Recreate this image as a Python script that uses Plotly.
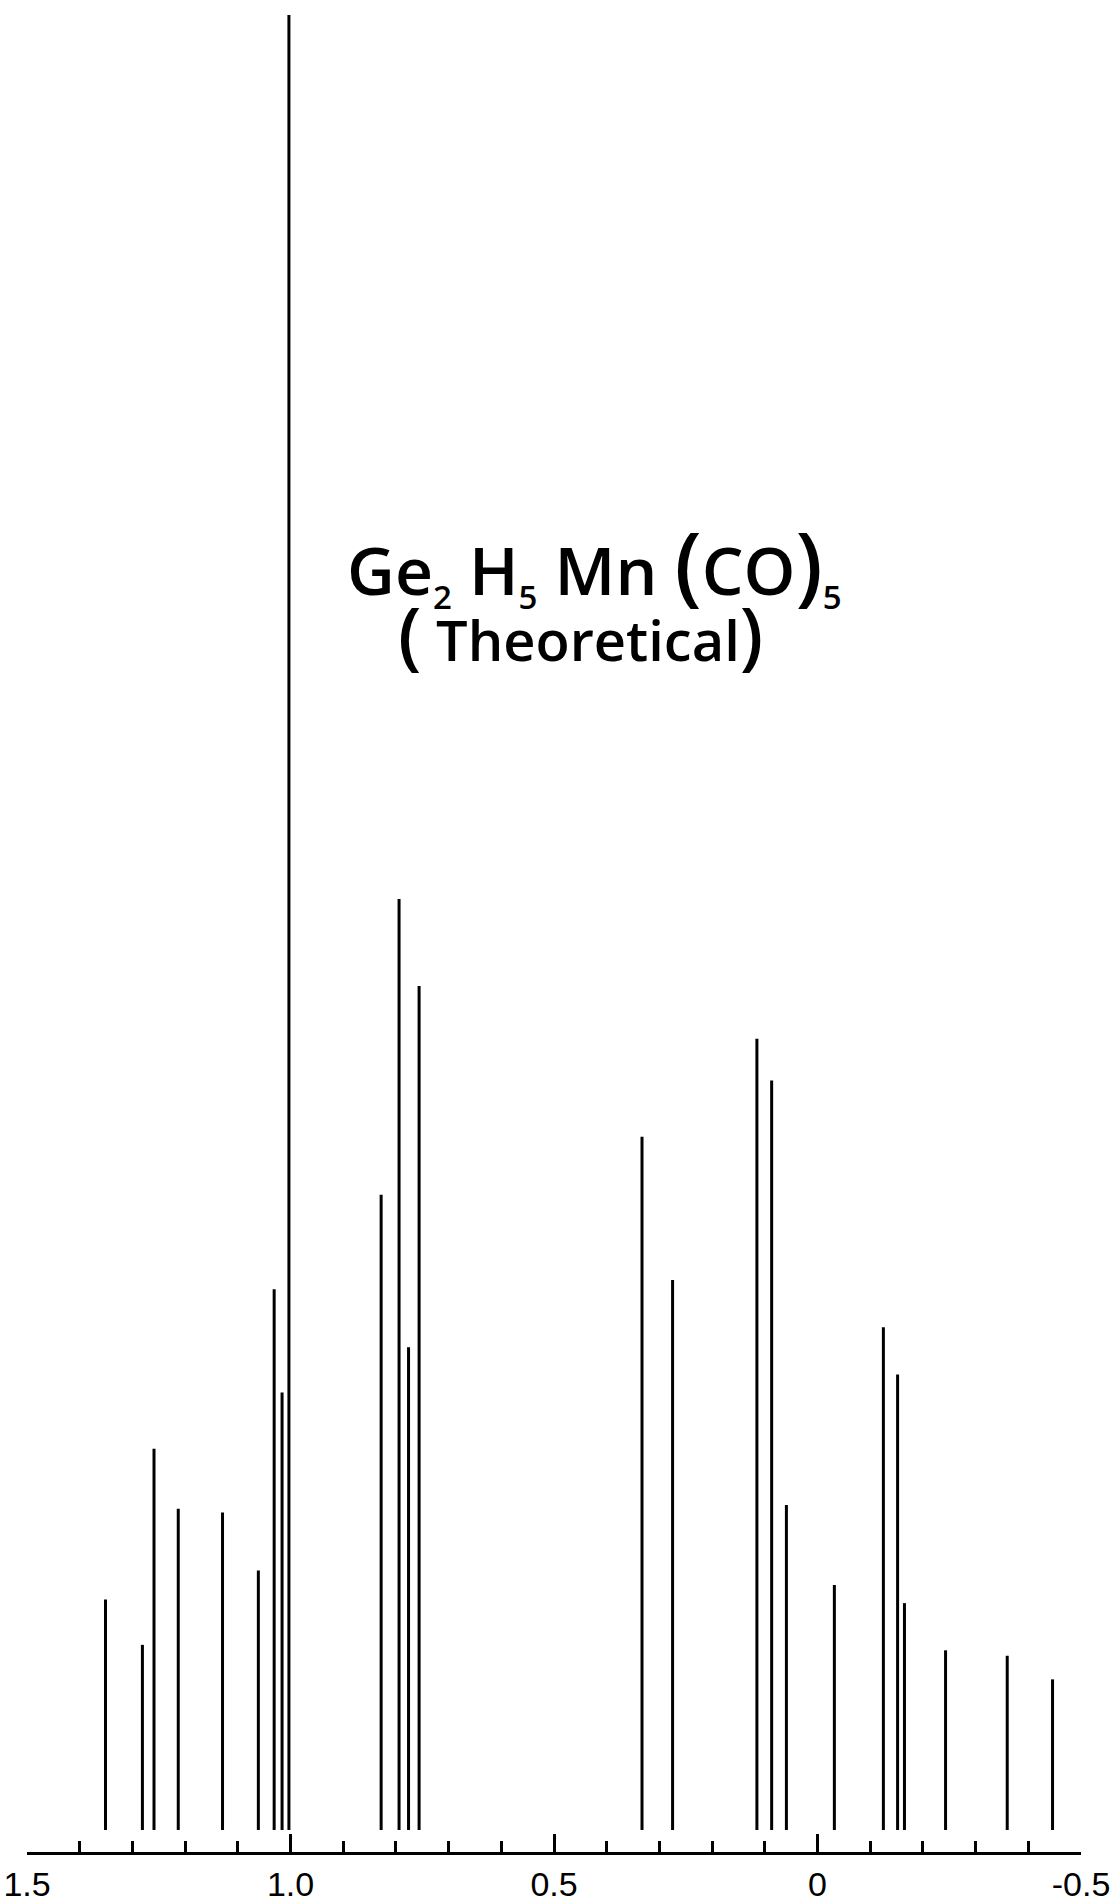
import plotly.graph_objects as go

# Theoretical proton NMR stick spectrum of Ge2H5Mn(CO)5
# chemical shift (ppm) and relative intensity (strongest line = 100)
shift_ppm = [1.351, 1.281, 1.259, 1.213, 1.129, 1.061, 1.031, 1.016, 1.003,
             0.828, 0.794, 0.776, 0.756,
             0.333, 0.275, 0.115, 0.087, 0.059, -0.032,
             -0.125, -0.152, -0.165, -0.243, -0.360, -0.446]
intensity = [12.7, 10.2, 21.0, 17.7, 17.5, 14.3, 29.8, 24.1, 100.0,
             35.0, 51.3, 26.6, 46.5,
             38.2, 30.3, 43.6, 41.3, 17.9, 13.5,
             27.7, 25.1, 12.5, 9.9, 9.6, 8.3]

tick_values = [1.5, 1.0, 0.5, 0.0, -0.5]
tick_labels = ["1.5", "1.0", "0.5", "0", "-0.5"]

TITLE_FONT = "Open Sans, Lato, sans-serif"


def sub(txt, px):
    return f"<sub><span style='font-size:{px}px'>{txt}</span></sub>"


def paren(ch, px):
    return f"<span style='font-size:{px}px'>{ch}</span>"


title_line1 = ("Ge" + sub("2", 33) + " H" + sub("5", 33) + " Mn "
               + paren("(", 86) + "CO" + paren(")", 86) + sub("5", 33))
title_line2 = paren("(", 74) + " Theoretical" + paren(")", 74)

# each stick runs from the baseline up to its intensity
stick_x, stick_y = [], []
for pos, h in zip(shift_ppm, intensity):
    stick_x += [pos, pos, None]
    stick_y += [0, h, None]

fig = go.Figure()
fig.add_trace(go.Scatter(
    x=stick_x,
    y=stick_y,
    mode="lines",
    line=dict(color="black", width=3),
    hoverinfo="skip",
))

fig.update_layout(
    width=1111,
    height=1902,
    margin=dict(l=27, r=30, t=10, b=50, autoexpand=False),
    paper_bgcolor="white",
    plot_bgcolor="white",
    showlegend=False,
    xaxis=dict(
        range=[1.5, -0.5],
        automargin=False,
        showgrid=False,
        zeroline=False,
        showline=True,
        linecolor="black",
        linewidth=3,
        ticks="inside",
        ticklen=18,
        tickwidth=3,
        tickcolor="black",
        tickmode="array",
        tickvals=tick_values,
        ticktext=tick_labels,
        ticklabeloverflow="allow",
        tickfont=dict(family="Liberation Sans Narrow, Liberation Sans, Arial", size=34, color="black"),
        minor=dict(tickmode="linear", tick0=0, dtick=0.1, ticks="inside",
                   ticklen=11, tickwidth=3, tickcolor="black", showgrid=False),
    ),
    yaxis=dict(range=[-1.212, 100.275], visible=False, fixedrange=True, automargin=False),
    annotations=[
        dict(
            text=title_line1,
            x=0.5384, y=0.7005, xref="paper", yref="paper",
            xanchor="center", yanchor="middle", showarrow=False,
            font=dict(family=TITLE_FONT, size=66, color="black", weight=600),
        ),
        dict(
            text=title_line2,
            x=0.5247, y=0.6620, xref="paper", yref="paper",
            xanchor="center", yanchor="middle", showarrow=False,
            font=dict(family=TITLE_FONT, size=56, color="black", weight=600),
        ),
    ],
)

fig.write_html("out.html")
